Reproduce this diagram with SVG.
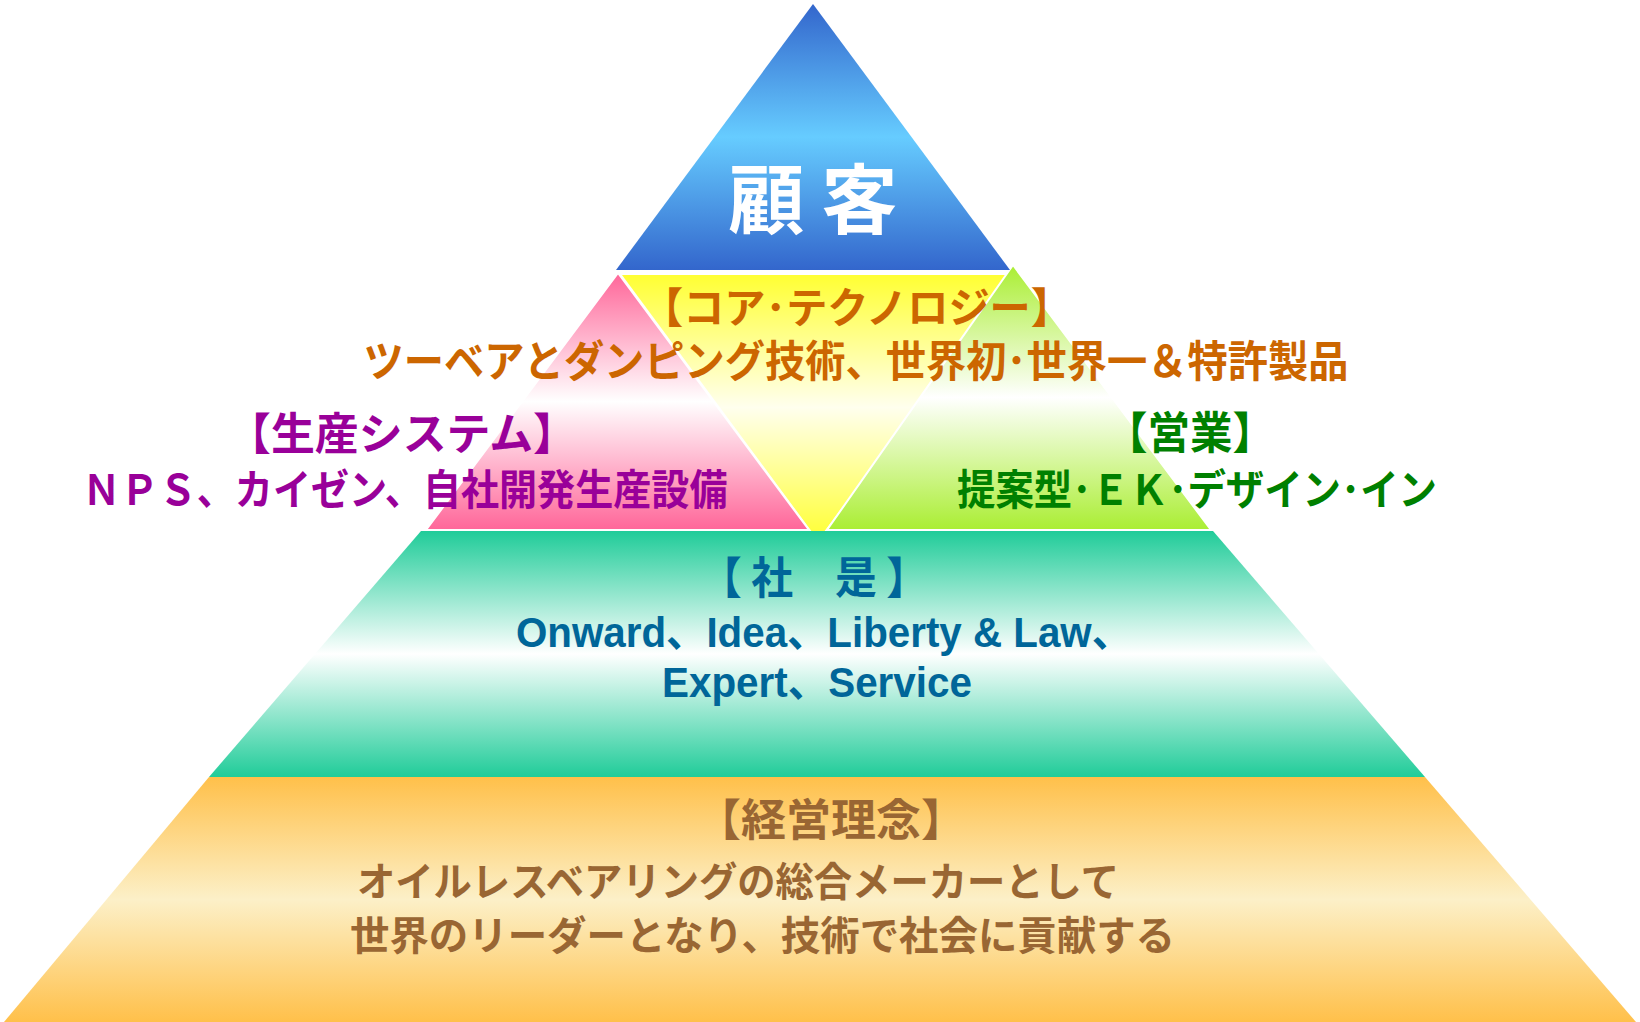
<svg xmlns="http://www.w3.org/2000/svg" width="1640" height="1022" viewBox="0 0 1640 1022">
<defs>
<linearGradient id="gBlue" x1="0" y1="0" x2="0" y2="1"><stop offset="0" stop-color="#3366cc"/><stop offset="0.5" stop-color="#66ccff"/><stop offset="1" stop-color="#3366cc"/></linearGradient>
<linearGradient id="gYellow" x1="0" y1="0" x2="0" y2="1"><stop offset="0" stop-color="#ffff33"/><stop offset="0.5" stop-color="#ffffee"/><stop offset="1" stop-color="#ffff33"/></linearGradient>
<linearGradient id="gPink" x1="0" y1="0" x2="0" y2="1"><stop offset="0" stop-color="#ff6699"/><stop offset="0.5" stop-color="#ffffff"/><stop offset="1" stop-color="#ff6699"/></linearGradient>
<linearGradient id="gGreen" x1="0" y1="0" x2="0" y2="1"><stop offset="0" stop-color="#aaee33"/><stop offset="0.5" stop-color="#ffffff"/><stop offset="1" stop-color="#aaee33"/></linearGradient>
<linearGradient id="gTeal" x1="0" y1="0" x2="0" y2="1"><stop offset="0" stop-color="#20cc99"/><stop offset="0.5" stop-color="#ffffff"/><stop offset="1" stop-color="#20cc99"/></linearGradient>
<linearGradient id="gOrange" x1="0" y1="0" x2="0" y2="1"><stop offset="0" stop-color="#ffc04a"/><stop offset="0.5" stop-color="#fcf0c8"/><stop offset="1" stop-color="#ffc04a"/></linearGradient>
</defs>
<style>
.jp{font-family:"Noto Sans CJK JP","Noto Sans CJK SC",sans-serif;font-weight:700}
.en{font-family:"Liberation Sans","Noto Sans CJK JP",sans-serif;font-weight:700}
.edge{stroke:#ffffff;stroke-width:2}
</style>
<rect width="1640" height="1022" fill="#ffffff"/>

<g id="keiei-rinen">
<polygon points="209,777 1425,777 1636,1022 4,1022" fill="url(#gOrange)"/>
<text class="jp" x="831" y="836" font-size="44" fill="#996633" text-anchor="middle" textLength="270" lengthAdjust="spacingAndGlyphs">【経営理念】</text>
<text class="jp" x="357" y="896" font-size="40" fill="#996633" textLength="762" lengthAdjust="spacingAndGlyphs">オイルレスベアリングの総合メーカーとして</text>
<text class="jp" x="350" y="950" font-size="40" fill="#996633" textLength="825" lengthAdjust="spacingAndGlyphs">世界のリーダーとなり、技術で社会に貢献する</text>
</g>

<g id="core-tech">
<polygon points="622,275 1014,275 818,540" fill="url(#gYellow)"/>
</g>

<g id="seisan">
<polygon class="edge" points="618,273 809,530 426,530" fill="url(#gPink)"/>
</g>

<g id="eigyo">
<polygon class="edge" points="1013,265 1211,530 827,530" fill="url(#gGreen)"/>
</g>

<g id="shaze">
<polygon points="421,531 1213,531 1425,777 209,777" fill="url(#gTeal)"/>
<text class="jp" x="700" y="594" font-size="44" fill="#006699" textLength="228" lengthAdjust="spacingAndGlyphs">【 社　是 】</text>
<text class="en" x="516" y="647" font-size="42" fill="#006699" textLength="616" lengthAdjust="spacingAndGlyphs">Onward、Idea、Liberty &amp; Law、</text>
<text class="en" x="662" y="697" font-size="42" fill="#006699" textLength="310" lengthAdjust="spacingAndGlyphs">Expert、Service</text>
</g>

<g id="kokyaku">
<polygon points="813,4 1010,270 616,270" fill="url(#gBlue)"/>
<text class="jp" x="813" y="228" font-size="76" fill="#ffffff" text-anchor="middle">顧 客</text>
</g>

<g id="labels">
<text class="jp" x="857" y="323" font-size="42" fill="#cc6600" text-anchor="middle" textLength="430" lengthAdjust="spacingAndGlyphs">【コア･テクノロジー】</text>
<text class="jp" x="856" y="377" font-size="43" fill="#cc6600" text-anchor="middle" textLength="985" lengthAdjust="spacingAndGlyphs">ツーベアとダンピング技術、世界初･世界一＆特許製品</text>
<text class="jp" x="402" y="450" font-size="44" fill="#990099" text-anchor="middle" textLength="350" lengthAdjust="spacingAndGlyphs">【生産システム】</text>
<text class="jp" x="405" y="505" font-size="42" fill="#990099" text-anchor="middle" textLength="645" lengthAdjust="spacingAndGlyphs">ＮＰＳ、カイゼン、自社開発生産設備</text>
<text class="jp" x="1190" y="449" font-size="44" fill="#008000" text-anchor="middle" textLength="170" lengthAdjust="spacingAndGlyphs">【営業】</text>
<text class="jp" x="1197" y="505" font-size="42" fill="#008000" text-anchor="middle" textLength="480" lengthAdjust="spacingAndGlyphs">提案型･ＥＫ･デザイン･イン</text>
</g>

<g id="connectors"></g>
</svg>
